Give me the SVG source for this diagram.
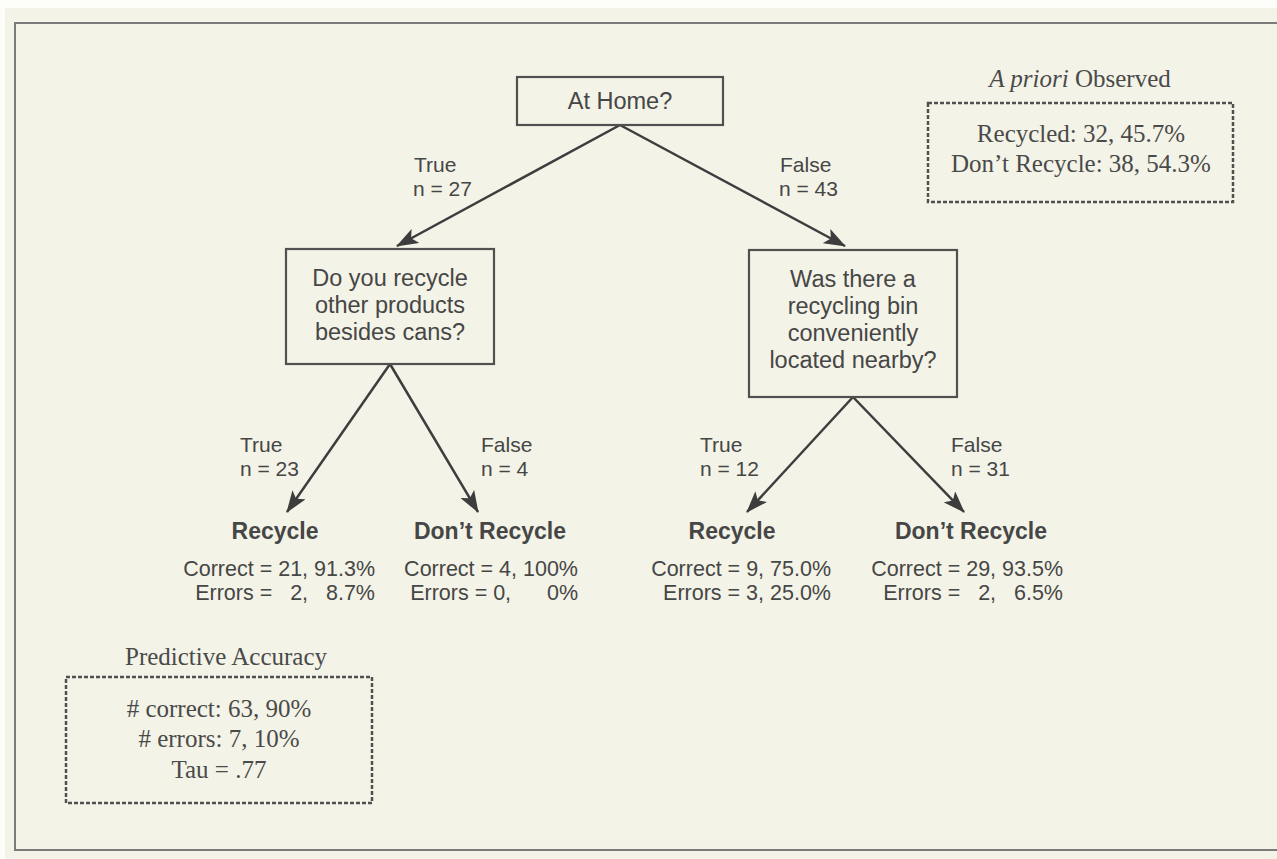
<svg xmlns="http://www.w3.org/2000/svg" width="1277" height="859" viewBox="0 0 1277 859">
  <style>
    .sans { font-family: "Liberation Sans", Arial, sans-serif; fill: #464646; }
    .serif { font-family: "Liberation Serif", "Times New Roman", serif; fill: #4a4a4a; }
    .q { font-size: 23.5px; text-anchor: middle; }
    .lbl { font-size: 21px; }
    .leaf { font-size: 23px; font-weight: bold; text-anchor: middle; }
    .stat { font-size: 21.5px; text-anchor: end; white-space: pre; }
    .box { fill: none; stroke: #505050; stroke-width: 2.2; }
    .dash { fill: none; stroke: #505050; stroke-width: 2.5; stroke-dasharray: 4 2; }
    .edge { fill: none; stroke: #3d3d3d; stroke-width: 2.5; }
    .info { font-size: 25px; text-anchor: middle; }
  </style>
  <defs>
    <marker id="arrow" markerUnits="userSpaceOnUse" markerWidth="22" markerHeight="16" refX="21" refY="8" orient="auto">
      <path d="M0,0 L22,8 L0,16 L5,8 z" fill="#3d3d3d"/>
    </marker>
  </defs>

  <!-- paper background with scan margin -->
  <rect x="0" y="0" width="1277" height="859" fill="#f3f3e7"/>
  <rect x="0" y="0" width="1277" height="8" fill="#fdfdf9"/>
  <rect x="0" y="0" width="5" height="859" fill="#fdfdf9"/>
  <!-- frame (right side runs off the page) -->
  <path d="M1277,23 H15 V850 H1277" fill="none" stroke="#7a7a7a" stroke-width="2"/>

  <!-- connectors -->
  <g id="connectors">
    <line class="edge" x1="620" y1="125" x2="397" y2="246" marker-end="url(#arrow)"/>
    <line class="edge" x1="620" y1="125" x2="845" y2="246" marker-end="url(#arrow)"/>
    <line class="edge" x1="390" y1="364" x2="287" y2="512" marker-end="url(#arrow)"/>
    <line class="edge" x1="390" y1="364" x2="478" y2="512" marker-end="url(#arrow)"/>
    <line class="edge" x1="853" y1="397" x2="747" y2="512" marker-end="url(#arrow)"/>
    <line class="edge" x1="853" y1="397" x2="964" y2="512" marker-end="url(#arrow)"/>
  </g>

  <!-- branch labels -->
  <g id="branch-labels" class="sans lbl">
    <text x="414" y="172">True</text>
    <text x="413" y="196">n = 27</text>
    <text x="780" y="172">False</text>
    <text x="779" y="196">n = 43</text>
    <text x="240" y="452">True</text>
    <text x="240" y="476">n = 23</text>
    <text x="481" y="452">False</text>
    <text x="481" y="476">n = 4</text>
    <text x="700" y="452">True</text>
    <text x="700" y="476">n = 12</text>
    <text x="951" y="452">False</text>
    <text x="951" y="476">n = 31</text>
  </g>

  <!-- decision nodes -->
  <g id="node-home">
    <rect class="box" x="517" y="77" width="206" height="48"/>
    <text class="sans q" x="620" y="109">At Home?</text>
  </g>
  <g id="node-other-products">
    <rect class="box" x="286" y="249" width="208" height="115"/>
    <text class="sans q" x="390" y="286">Do you recycle</text>
    <text class="sans q" x="390" y="313">other products</text>
    <text class="sans q" x="390" y="340">besides cans?</text>
  </g>
  <g id="node-bin">
    <rect class="box" x="749" y="250" width="208" height="147"/>
    <text class="sans q" x="853" y="287">Was there a</text>
    <text class="sans q" x="853" y="314">recycling bin</text>
    <text class="sans q" x="853" y="341">conveniently</text>
    <text class="sans q" x="853" y="368">located nearby?</text>
  </g>

  <!-- leaf outcomes -->
  <g id="leaf-1">
    <text class="sans leaf" x="275" y="539">Recycle</text>
    <text class="sans stat" x="375" y="576">Correct = 21, 91.3%</text>
    <text class="sans stat" x="375" y="600">Errors =   2,   8.7%</text>
  </g>
  <g id="leaf-2">
    <text class="sans leaf" x="490" y="539">Don’t Recycle</text>
    <text class="sans stat" x="578" y="576">Correct = 4, 100%</text>
    <text class="sans stat" x="578" y="600">Errors = 0,      0%</text>
  </g>
  <g id="leaf-3">
    <text class="sans leaf" x="732" y="539">Recycle</text>
    <text class="sans stat" x="831" y="576">Correct = 9, 75.0%</text>
    <text class="sans stat" x="831" y="600">Errors = 3, 25.0%</text>
  </g>
  <g id="leaf-4">
    <text class="sans leaf" x="971" y="539">Don’t Recycle</text>
    <text class="sans stat" x="1063" y="576">Correct = 29, 93.5%</text>
    <text class="sans stat" x="1063" y="600">Errors =   2,   6.5%</text>
  </g>

  <!-- a priori summary -->
  <g id="apriori">
    <text class="serif info" x="1080" y="87"><tspan font-style="italic">A priori</tspan> Observed</text>
    <rect class="dash" x="928" y="103" width="305" height="99"/>
    <text class="serif info" x="1081" y="142">Recycled: 32, 45.7%</text>
    <text class="serif info" x="1081" y="172">Don’t Recycle: 38, 54.3%</text>
  </g>

  <!-- predictive accuracy summary -->
  <g id="accuracy">
    <text class="serif info" x="226" y="665">Predictive Accuracy</text>
    <rect class="dash" x="66" y="677" width="306" height="126"/>
    <text class="serif info" x="219" y="717">&#35; correct: 63, 90%</text>
    <text class="serif info" x="219" y="747">&#35; errors: 7, 10%</text>
    <text class="serif info" x="219" y="778">Tau = .77</text>
  </g>
</svg>
